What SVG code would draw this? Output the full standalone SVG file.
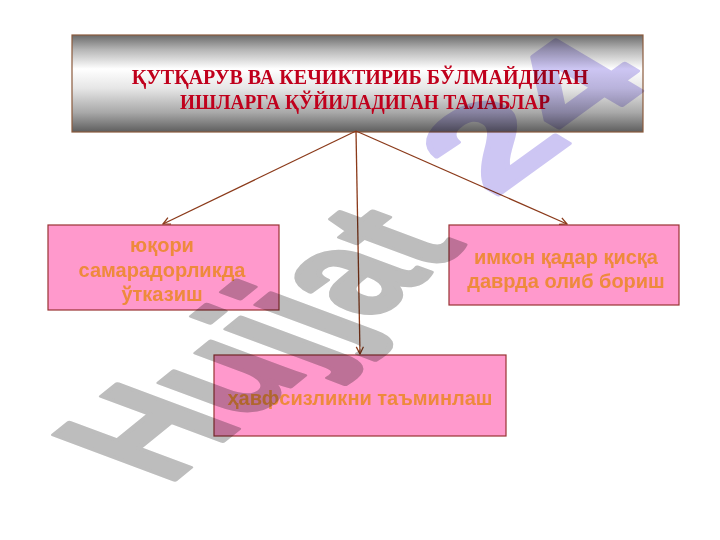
<svg xmlns="http://www.w3.org/2000/svg" width="720" height="540" viewBox="0 0 720 540">
<defs>
<linearGradient id="metal" x1="0" y1="0" x2="0" y2="1">
<stop offset="0" stop-color="#6a6a6a"/>
<stop offset="0.15" stop-color="#b5b5b5"/>
<stop offset="0.35" stop-color="#ffffff"/>
<stop offset="0.55" stop-color="#e6e6e6"/>
<stop offset="0.8" stop-color="#a8a8a8"/>
<stop offset="1" stop-color="#5e5e5e"/>
</linearGradient>
<marker id="arr" viewBox="0 0 10 10" refX="9" refY="5" markerWidth="9" markerHeight="9" orient="auto" markerUnits="userSpaceOnUse">
<path d="M1,1 L9,5 L1,9" fill="none" stroke="#8b3a1a" stroke-width="1.4"/>
</marker>
<style>
.box{fill:#ff99cc;stroke:#993333;stroke-width:1.2}
.lbl{font-family:"Liberation Sans",Arial,sans-serif;font-weight:bold;font-size:20px;fill:#ee8a3c;text-anchor:middle}
.title{font-family:"Liberation Serif","Times New Roman",serif;font-weight:bold;font-size:20px;fill:#c0001c;text-anchor:middle}
.conn{stroke:#8b3a1a;stroke-width:1.3;fill:none;marker-end:url(#arr)}
.wm{font-family:"Liberation Sans",Arial,sans-serif;font-weight:bold;font-size:100px;stroke-width:3;stroke-linejoin:round}
.wmg{mix-blend-mode:multiply}
</style>
</defs>
<rect width="720" height="540" fill="#ffffff"/>
<g id="title">
<rect x="72" y="35" width="571" height="97" fill="url(#metal)" stroke="#8b5a3c" stroke-width="1.2"/>
<text class="title" x="360" y="84">ҚУТҚАРУВ ВА КЕЧИКТИРИБ БЎЛМАЙДИГАН</text>
<text class="title" x="365" y="109" textLength="370" lengthAdjust="spacingAndGlyphs">ИШЛАРГА ҚЎЙИЛАДИГАН ТАЛАБЛАР</text>
</g>
<g id="connectors">
<line class="conn" x1="356" y1="131" x2="163" y2="224"/>
<line class="conn" x1="356" y1="131" x2="360" y2="354"/>
<line class="conn" x1="356" y1="131" x2="567" y2="224"/>
</g>
<g id="node-left">
<rect class="box" x="48" y="225" width="231" height="85"/>
<text class="lbl" x="162" y="252">юқори</text>
<text class="lbl" x="162" y="277">самарадорликда</text>
<text class="lbl" x="162" y="301">ўтказиш</text>
</g>
<g id="node-right">
<rect class="box" x="449" y="225" width="230" height="80"/>
<text class="lbl" x="566" y="264">имкон қадар қисқа</text>
<text class="lbl" x="566" y="288">даврда олиб бориш</text>
</g>
<g id="node-bottom">
<rect class="box" x="214" y="355" width="292" height="81"/>
<text class="lbl" x="360" y="405">ҳавфсизликни таъминлаш</text>
</g>
<g id="watermark">
<g class="wmg" transform="matrix(1.08 -0.87 1.75 0.653 167.2 485.7)">
<text class="wm" x="0" y="0" fill="#bdbdbd" stroke="#bdbdbd">Hujjat</text>
</g>
<g class="wmg" transform="matrix(1.45 -1.05 1.25 0.74 494 198)">
<text class="wm" x="0" y="0" fill="#cdc6f3" stroke="#cdc6f3">24</text>
</g>
</g>
</svg>
